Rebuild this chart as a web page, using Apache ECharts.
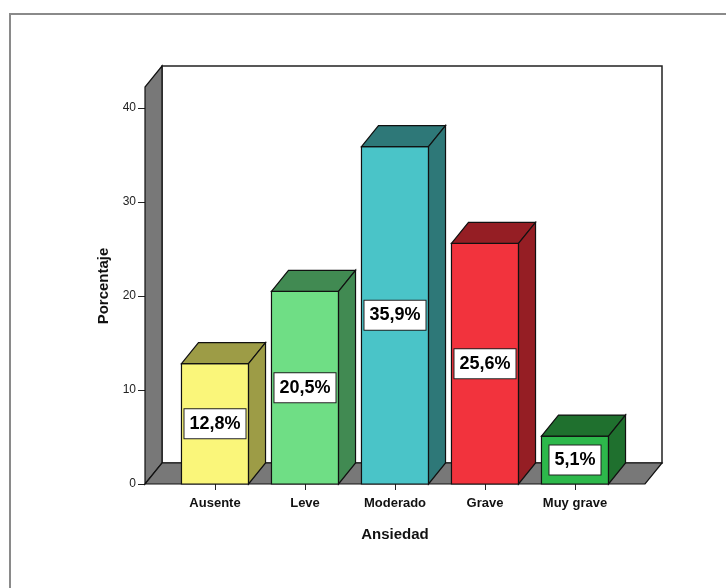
<!DOCTYPE html>
<html>
<head>
<meta charset="utf-8">
<script src="https://cdn.jsdelivr.net/npm/echarts@6/dist/echarts.min.js"></script>
<style>html,body{margin:0;padding:0;background:#fff;}#c{width:726px;height:588px;}</style>
</head>
<body>
<div id="c"></div>
<script>
var categories = ['Ausente', 'Leve', 'Moderado', 'Grave', 'Muy grave'];
var values = [12.8, 20.5, 35.9, 25.6, 5.1];
var valueLabels = ['12,8%', '20,5%', '35,9%', '25,6%', '5,1%'];
var yTicks = [0, 10, 20, 30, 40];
var frontColors = ['#FAF67A', '#6FDE85', '#4AC4C8', '#F2333D', '#2DB84B'];
var sideColors = ['#9D9C46', '#418A52', '#2E7878', '#951E24', '#1F702E'];

var FONT = '"Liberation Sans", Arial, sans-serif';
var DX = 17, DY = 21;     // 3D depth offset
var SIDE_EXT = 25;        // floor extends beyond category band

var chart = echarts.init(document.getElementById('c'), null, {renderer: 'canvas'});

function renderFrame(params, api) {
  var cs = params.coordSys;
  var yb = api.coord([0, 0])[1];
  var yt = api.coord([0, yTicks[yTicks.length - 1]])[1] - DY;
  var xl = cs.x - SIDE_EXT, xr = cs.x + cs.width + SIDE_EXT;
  return {
    type: 'group',
    children: [
      { type: 'rect', shape: {x: xl + DX, y: yt - DY, width: xr - xl, height: yb - yt},
        style: {fill: '#ffffff', stroke: '#222', lineWidth: 1.5} },
      { type: 'polygon', shape: {points: [[xl, yb], [xl, yt], [xl + DX, yt - DY], [xl + DX, yb - DY]]},
        style: {fill: '#787878', stroke: '#111', lineWidth: 1.2} },
      { type: 'polygon', shape: {points: [[xl, yb], [xr, yb], [xr + DX, yb - DY], [xl + DX, yb - DY]]},
        style: {fill: '#787878', stroke: '#111', lineWidth: 1.2} }
    ]
  };
}

function renderBar(params, api) {
  var i = api.value(0);
  var v = api.value(1);
  var p = api.coord([i, v]);
  var b = api.coord([i, 0]);
  var w = api.size([1, 0])[0] * 0.745;
  var x0 = p[0] - w / 2, x1 = p[0] + w / 2, yv = p[1], yb = b[1];
  var idx = params.dataIndex;
  var st = {stroke: '#111', lineWidth: 1.2};
  return {
    type: 'group',
    children: [
      { type: 'rect', shape: {x: x0, y: yv, width: w, height: yb - yv},
        style: Object.assign({fill: frontColors[idx]}, st) },
      { type: 'polygon', shape: {points: [[x0, yv], [x0 + DX, yv - DY], [x1 + DX, yv - DY], [x1, yv]]},
        style: Object.assign({fill: sideColors[idx]}, st) },
      { type: 'polygon', shape: {points: [[x1, yv], [x1 + DX, yv - DY], [x1 + DX, yb - DY], [x1, yb]]},
        style: Object.assign({fill: sideColors[idx]}, st) },
      { type: 'text', x: p[0], y: (yv + yb) / 2,
        style: {text: valueLabels[idx], align: 'center', verticalAlign: 'middle',
          font: 'bold 18px ' + FONT, fill: '#000',
          backgroundColor: '#fff', borderColor: '#222', borderWidth: 1, padding: [6, 5, 5, 5]} }
    ]
  };
}

chart.setOption({
  animation: false,
  textStyle: {fontFamily: FONT},
  graphic: [
    { type: 'polyline', shape: {points: [[10, 588], [10, 14], [726, 14]]},
      style: {stroke: '#8a8a8a', lineWidth: 2, fill: null} }
  ],
  grid: {left: 170, right: 106, top: 108, bottom: 104},
  xAxis: {
    type: 'category',
    data: categories,
    name: 'Ansiedad',
    nameLocation: 'middle',
    nameGap: 43,
    nameTextStyle: {fontWeight: 'bold', fontSize: 15, color: '#111', fontFamily: FONT},
    axisLine: {show: false},
    axisTick: {show: true, alignWithLabel: true, length: 6, lineStyle: {color: '#222'}},
    axisLabel: {fontWeight: 'bold', fontSize: 13, color: '#111', margin: 13, fontFamily: FONT},
    splitLine: {show: false}
  },
  yAxis: {
    type: 'value',
    min: 0, max: 40, interval: 10,
    offset: 25,
    name: 'Porcentaje',
    nameLocation: 'middle',
    nameRotate: 90,
    nameGap: 34,
    nameTextStyle: {fontWeight: 'bold', fontSize: 15, color: '#111', fontFamily: FONT, padding: [0, 0, 0, 20]},
    axisLine: {show: false},
    axisTick: {show: true, length: 7, lineStyle: {color: '#222'}},
    axisLabel: {fontSize: 12, color: '#222', margin: 9, fontFamily: FONT},
    splitLine: {show: false}
  },
  series: [
    { type: 'custom', renderItem: renderFrame, data: [[0, 0]], z: 1, silent: true },
    { type: 'custom', renderItem: renderBar, z: 2,
      data: values.map(function (v, i) { return [i, v]; }) }
  ]
});
</script>
</body>
</html>
